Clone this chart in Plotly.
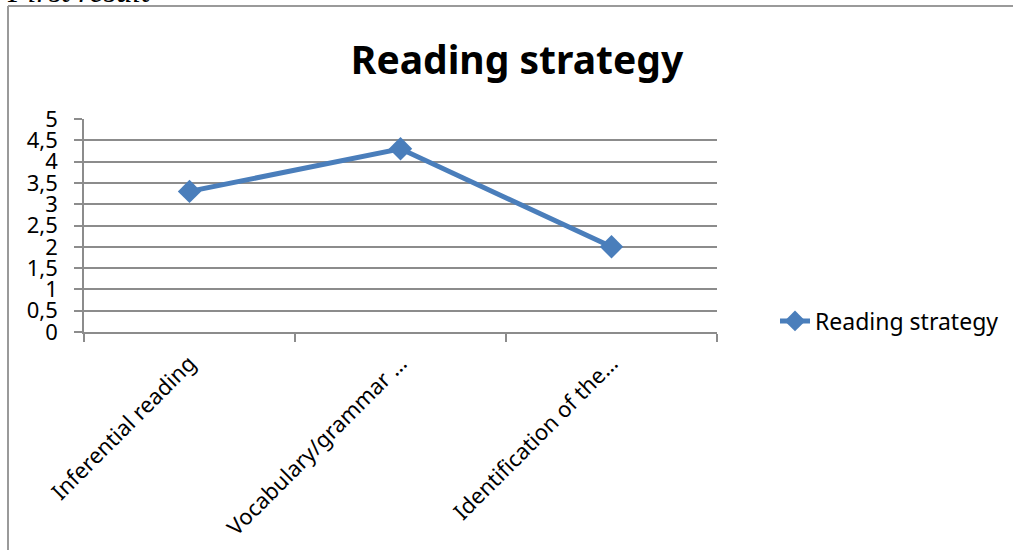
import plotly.graph_objects as go

categories = ["Inferential reading", "Vocabulary/grammar …", "Identification of the…"]
values = [3.3, 4.3, 2.0]
series_name = "Reading strategy"
y_ticks = [0, 0.5, 1, 1.5, 2, 2.5, 3, 3.5, 4, 4.5, 5]

W, H = 1013, 550
L, R, T, B = 84, 296, 119, 218
pw, ph = W - L - R, H - T - B
GRID = "#8c8c8c"
BLUE = "#4a7ebb"
FONT = "Noto Sans, Open Sans, sans-serif"

fig = go.Figure()
fig.add_trace(go.Scatter(
    x=categories, y=values, name=series_name, mode="lines+markers",
    line=dict(color=BLUE, width=5),
    marker=dict(symbol="diamond", size=18, color=BLUE),
))

def px_x(p):
    return (p - L) / pw

def px_y(p):
    return 1 - (p - T) / ph

shapes = [
    # outer chart frame (left and top edges)
    dict(type="line", xref="paper", yref="paper", x0=px_x(8), x1=px_x(8), y0=px_y(6), y1=px_y(560),
         line=dict(color="#9a9a9a", width=2)),
    dict(type="line", xref="paper", yref="paper", x0=px_x(8), x1=px_x(1020), y0=px_y(6), y1=px_y(6),
         line=dict(color="#9a9a9a", width=2)),
]

fig.update_layout(
    width=W, height=H,
    margin=dict(l=L, r=R, t=T, b=B, autoexpand=False),
    paper_bgcolor="white", plot_bgcolor="white",
    separators=", ",
    font=dict(family=FONT, size=22, color="black"),
    title=dict(text="<b>Reading strategy</b>", x=517 / W, xanchor="center",
               y=1 - 60 / H, yanchor="middle", font=dict(size=39, family=FONT)),
    xaxis=dict(
        type="category", range=[-0.5, 2.5], showgrid=False,
        showline=True, linecolor=GRID, linewidth=1.5,
        ticks="outside", ticklen=8, tickcolor=GRID, tickwidth=1.5,
        tickson="boundaries", tickangle=-45, tickfont=dict(size=22),
        ticklabelstandoff=8, zeroline=False,
    ),
    yaxis=dict(
        range=[0, 5], tickvals=y_ticks, showgrid=True, gridcolor=GRID, gridwidth=1.5,
        showline=True, linecolor=GRID, linewidth=1.5,
        ticks="outside", ticklen=8, tickcolor=GRID, tickwidth=1.5,
        ticklabelstandoff=12, zeroline=False, tickfont=dict(size=22),
    ),
    showlegend=True,
    legend=dict(x=px_x(775), xanchor="left", y=px_y(321), yanchor="middle",
                font=dict(size=23), bgcolor="rgba(0,0,0,0)"),
    shapes=shapes,
)

fig.add_annotation(
    text="<i>First result</i>", xref="paper", yref="paper",
    x=px_x(5), xanchor="left", y=px_y(11), yanchor="bottom",
    showarrow=False, font=dict(family="Liberation Serif, serif", size=32, color="black"),
)

fig.write_html("out.html")
